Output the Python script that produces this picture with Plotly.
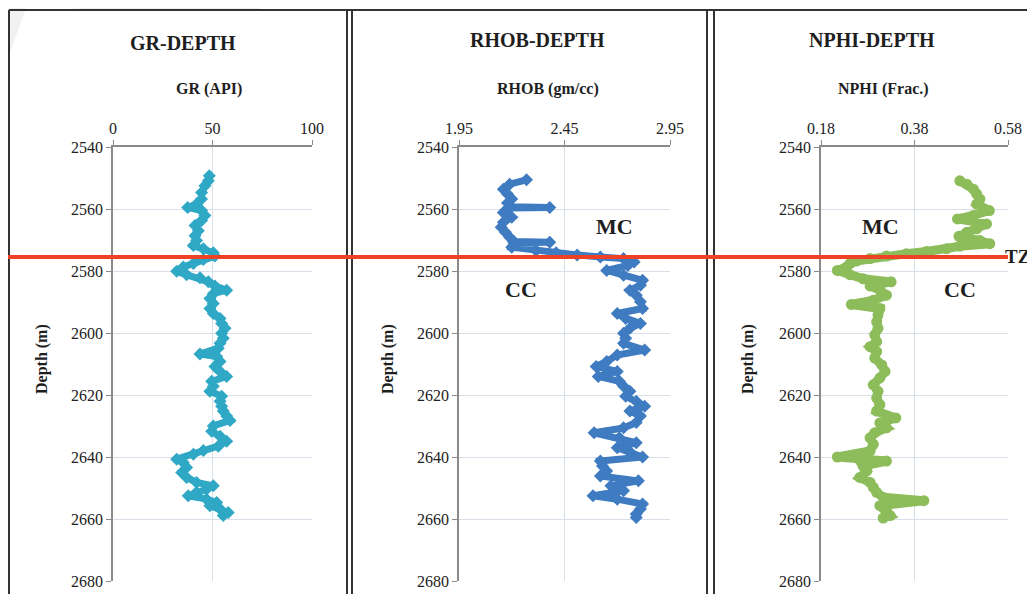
import plotly.graph_objects as go

# The page body adds an 8px offset; positions below are given in window pixels
BODY = 8
W, H = 1035, 594

# ---------------- data ----------------
gr_depth = [2549.3, 2550.9, 2552.5, 2554.7, 2556.8, 2558.4, 2559.5, 2560.5, 2562.1, 2563.7,
            2565.3, 2567.0, 2568.6, 2570.2, 2571.8, 2572.8, 2574.1, 2575.2, 2576.3, 2577.6,
            2578.7, 2580.1, 2581.2, 2582.2, 2583.5, 2584.8, 2586.2, 2587.3, 2588.9, 2590.5,
            2592.1, 2593.7, 2595.3, 2596.9, 2598.5, 2600.1, 2601.7, 2603.3, 2604.9, 2606.8,
            2607.6, 2609.2, 2610.8, 2612.4, 2614.0, 2615.6, 2617.2, 2618.8, 2620.4, 2622.0,
            2623.6, 2625.2, 2626.8, 2628.2, 2630.0, 2631.7, 2633.3, 2634.9, 2636.5, 2637.9,
            2639.1, 2640.7, 2641.8, 2643.4, 2645.0, 2646.6, 2648.2, 2649.3, 2650.4, 2651.4,
            2652.5, 2653.6, 2654.7, 2655.7, 2656.8, 2657.9, 2658.9]
gr_api = [48.4, 47.9, 46.2, 44.5, 44.5, 42.0, 37.5, 44.5, 46.2, 44.5,
          41.2, 42.9, 41.2, 42.0, 40.4, 45.4, 50.4, 51.2, 45.4, 40.4,
          35.3, 32.0, 37.0, 43.7, 47.9, 51.2, 57.1, 50.4, 48.7, 50.4,
          48.7, 50.4, 53.8, 54.6, 56.3, 54.6, 55.4, 53.8, 52.9, 43.7,
          52.1, 53.8, 51.2, 53.8, 57.1, 49.6, 50.4, 48.7, 54.6, 53.8,
          54.6, 55.4, 57.1, 58.8, 50.4, 49.6, 53.8, 57.1, 52.9, 45.4,
          40.4, 32.0, 35.3, 37.0, 34.5, 37.0, 42.0, 50.4, 47.0, 42.0,
          37.8, 47.0, 52.1, 48.7, 53.8, 57.9, 55.4]

rhob_depth = [2550.6, 2552.0, 2553.6, 2555.2, 2556.8, 2558.1, 2559.3, 2559.5, 2559.7, 2561.1,
              2562.7, 2564.3, 2565.9, 2567.5, 2569.1, 2570.5, 2570.7, 2570.9, 2572.3, 2573.4,
              2574.1, 2574.8, 2575.5, 2576.0, 2577.1, 2578.2, 2579.8, 2581.4, 2583.0, 2584.6,
              2586.2, 2587.8, 2589.9, 2592.1, 2593.7, 2595.3, 2596.9, 2598.5, 2600.1, 2601.7,
              2603.3, 2605.5, 2607.1, 2609.2, 2610.8, 2612.4, 2614.0, 2615.6, 2617.2, 2618.8,
              2620.4, 2622.0, 2623.6, 2625.2, 2626.8, 2628.9, 2630.6, 2632.2, 2633.8, 2635.4,
              2637.0, 2638.3, 2640.0, 2641.3, 2642.9, 2644.5, 2646.1, 2647.7, 2649.3, 2650.9,
              2652.5, 2653.6, 2655.2, 2656.8, 2658.4, 2659.5]
rhob_gcc = [2.27, 2.19, 2.16, 2.18, 2.20, 2.18, 2.19, 2.38, 2.19, 2.16,
            2.20, 2.16, 2.15, 2.17, 2.19, 2.21, 2.38, 2.21, 2.20, 2.315,
            2.41, 2.51, 2.62, 2.73, 2.78, 2.75, 2.65, 2.73, 2.82, 2.81,
            2.76, 2.79, 2.81, 2.82, 2.70, 2.74, 2.81, 2.76, 2.73, 2.74,
            2.73, 2.83, 2.70, 2.65, 2.60, 2.70, 2.61, 2.71, 2.73, 2.76,
            2.74, 2.79, 2.83, 2.76, 2.81, 2.79, 2.73, 2.59, 2.71, 2.79,
            2.70, 2.76, 2.82, 2.62, 2.63, 2.65, 2.62, 2.80, 2.67, 2.73,
            2.585, 2.70, 2.82, 2.81, 2.79, 2.79]

nphi_depth = [2550.9, 2552.0, 2553.6, 2555.2, 2556.8, 2558.4, 2560.5, 2562.1, 2563.2, 2564.8,
              2566.4, 2567.5, 2568.8, 2570.2, 2571.2, 2572.0, 2572.8, 2573.7, 2574.4, 2575.2,
              2576.0, 2576.8, 2577.6, 2578.7, 2579.8, 2581.2, 2582.5, 2583.5, 2584.8, 2586.2,
              2587.8, 2589.4, 2590.8, 2592.1, 2594.2, 2596.4, 2598.5, 2600.6, 2602.8, 2604.4,
              2606.0, 2608.1, 2610.3, 2612.4, 2614.5, 2616.7, 2618.8, 2621.0, 2623.1, 2625.2,
              2627.4, 2629.0, 2630.6, 2632.2, 2633.8, 2635.9, 2638.0, 2640.0, 2641.3, 2642.9,
              2644.5, 2646.6, 2648.2, 2649.8, 2651.4, 2653.0, 2654.1, 2655.7, 2657.3, 2658.9,
              2659.7]
nphi_frac = [0.477, 0.492, 0.506, 0.513, 0.520, 0.513, 0.540, 0.506, 0.472, 0.534,
             0.513, 0.492, 0.475, 0.520, 0.541, 0.477, 0.449, 0.406, 0.363, 0.320,
             0.285, 0.256, 0.242, 0.235, 0.215, 0.242, 0.270, 0.330, 0.285, 0.306,
             0.320, 0.292, 0.245, 0.306, 0.302, 0.299, 0.302, 0.295, 0.299, 0.285,
             0.299, 0.295, 0.310, 0.317, 0.306, 0.292, 0.302, 0.299, 0.306, 0.299,
             0.340, 0.306, 0.320, 0.295, 0.285, 0.292, 0.285, 0.215, 0.320, 0.270,
             0.278, 0.263, 0.285, 0.292, 0.299, 0.313, 0.400, 0.306, 0.320, 0.328,
             0.313]

tz_depth = 2575.5
depth_range = [2680, 2540]
depth_ticks = [2540, 2560, 2580, 2600, 2620, 2640, 2660, 2680]
gr_ticks = [0, 50, 100]
rhob_ticks = [1.95, 2.45, 2.95]
nphi_ticks = [0.18, 0.38, 0.58]
nphi_ticklabels = ["0.18", "0.38", "0.58"]

# ---------------- styling ----------------
FONT = "Liberation Serif, Times New Roman, serif"
C_GR = "#2FA8C5"
C_RHOB = "#3F7BC1"
C_NPHI = "#8DBC5B"
C_RED = "#EE4125"
GRID = "#D9DFE9"
AXC = "#8A8A8A"


def px(x):  # window pixel -> paper fraction
    return (x - BODY) / W


def py(y):
    return 1 - (y - BODY) / H


fig = go.Figure()

fig.add_trace(go.Scatter(x=gr_api, y=gr_depth, mode="lines+markers",
                         line=dict(color=C_GR, width=7),
                         marker=dict(symbol="diamond", size=10, color=C_GR),
                         xaxis="x", yaxis="y", showlegend=False))
fig.add_trace(go.Scatter(x=rhob_gcc, y=rhob_depth, mode="lines+markers",
                         line=dict(color=C_RHOB, width=7),
                         marker=dict(symbol="diamond", size=10, color=C_RHOB),
                         xaxis="x2", yaxis="y2", showlegend=False))
fig.add_trace(go.Scatter(x=nphi_frac, y=nphi_depth, mode="lines+markers",
                         line=dict(color=C_NPHI, width=9),
                         marker=dict(symbol="circle", size=11, color=C_NPHI),
                         xaxis="x3", yaxis="y3", showlegend=False))

ytop, ybot = 147, 581
panels = [
    (113, 312, [0, 100], gr_ticks, None),
    (459, 670, [1.95, 2.95], rhob_ticks, None),
    (821, 1008, [0.18, 0.58], nphi_ticks, nphi_ticklabels),
]

layout = dict(width=W, height=H,
              margin=dict(l=0, r=0, t=0, b=0, pad=0, autoexpand=False),
              paper_bgcolor="white", plot_bgcolor="white", showlegend=False,
              font=dict(family=FONT, color="#222", size=15))

for i, (xl, xr, rng, tv, tt) in enumerate(panels):
    sfx = "" if i == 0 else str(i + 1)
    xa = dict(domain=[px(xl), px(xr)], range=rng, side="top", automargin=False,
              anchor="y" + sfx, tickmode="array", tickvals=tv,
              showgrid=True, gridcolor=GRID, gridwidth=1.2,
              showline=True, linecolor=AXC, linewidth=1.5,
              ticks="outside", ticklen=5, tickcolor=AXC,
              zeroline=False, tickfont=dict(size=16, family=FONT, color="#222"),
              fixedrange=True)
    if tt:
        xa["ticktext"] = tt
    ya = dict(domain=[py(ybot), py(ytop)], range=depth_range, automargin=False,
              anchor="x" + sfx, tickmode="array", tickvals=depth_ticks,
              showgrid=True, gridcolor=GRID, gridwidth=1.2,
              showline=True, linecolor=AXC, linewidth=1.5,
              ticks="outside", ticklen=5, tickcolor=AXC,
              zeroline=False, tickfont=dict(size=16, family=FONT, color="#222"),
              fixedrange=True)
    layout["xaxis" + sfx] = xa
    layout["yaxis" + sfx] = ya

fig.update_layout(**layout)

shapes = []
# faint watermark fragments at the top edge
shapes.append(dict(type="path", xref="paper", yref="paper", layer="below",
                   path=f"M {px(8)} {py(8)} L {px(26)} {py(8)} L {px(8)} {py(58)} Z",
                   fillcolor="#F1F1F1", line=dict(width=0)))
shapes.append(dict(type="path", xref="paper", yref="paper", layer="below",
                   path=f"M {px(72)} {py(8)} L {px(262)} {py(8)} L {px(258)} {py(10)} L {px(76)} {py(10)} Z",
                   fillcolor="#F1F1F1", line=dict(width=0)))

# panel frames
FR = dict(color="#333333", width=2)
shapes.append(dict(type="line", xref="paper", yref="paper", x0=px(9), x1=1, y0=py(10), y1=py(10), line=FR))
for xv in [9, 347, 352, 707, 714]:
    shapes.append(dict(type="line", xref="paper", yref="paper", x0=px(xv), x1=px(xv),
                       y0=0, y1=py(10), line=FR))

# transition-zone marker line
shapes.append(dict(type="line", xref="paper", yref="y", x0=0, x1=px(1008),
                   y0=tz_depth, y1=tz_depth, line=dict(color=C_RED, width=4)))
fig.update_layout(shapes=shapes)

ann = []


def add_text(text, x, y, size, bold=True, angle=0, xanchor="center"):
    t = f"<b>{text}</b>" if bold else text
    ann.append(dict(text=t, x=px(x), y=py(y), xref="paper", yref="paper",
                    showarrow=False, xanchor=xanchor, yanchor="middle",
                    textangle=angle, font=dict(family=FONT, size=size, color="#1E1E1E")))


add_text("GR-DEPTH", 183, 43, 20)
add_text("RHOB-DEPTH", 537, 40, 20)
add_text("NPHI-DEPTH", 872, 40, 20)
add_text("GR (API)", 209, 89, 16)
add_text("RHOB (gm/cc)", 548, 89, 16)
add_text("NPHI (Frac.)", 883, 89, 16)
add_text("Depth (m)", 42, 359, 16, angle=-90)
add_text("Depth (m)", 388, 359, 16, angle=-90)
add_text("Depth (m)", 748, 359, 16, angle=-90)
add_text("MC", 614, 226, 22)
add_text("CC", 521, 290, 22)
add_text("MC", 880, 226, 22)
add_text("CC", 960, 290, 22)
add_text("TZ", 1032, 257, 19, xanchor="right")
fig.update_layout(annotations=ann)

fig.write_html("out.html")
